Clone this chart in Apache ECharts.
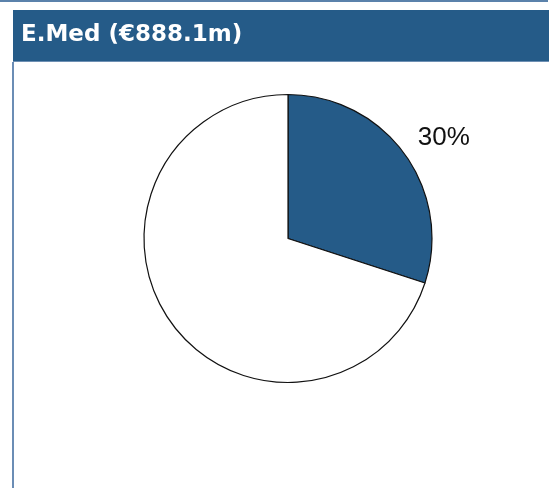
<!DOCTYPE html>
<html>
<head>
<meta charset="utf-8">
<script src="https://cdn.jsdelivr.net/npm/echarts@6/dist/echarts.min.js"></script>
<style>
  html, body { margin: 0; padding: 0; background: #fff; }
  #content { width: 549px; height: 488px; }
</style>
</head>
<body>
<div id="content"></div>
<script>
  // chart data
  let titleText = 'E.Med (€888.1m)';
  let categories = ['E.Med', 'Other'];
  let values = [30, 70];
  let sliceColors = ['#255b88', '#ffffff'];

  let chart = echarts.init(document.getElementById('content'));

  let pieData = categories.map(function (name, i) {
    return { name: name, value: values[i], itemStyle: { color: sliceColors[i] } };
  });
  let labelData = categories.map(function (name, i) {
    return { name: name, value: values[i] };
  });

  chart.setOption({
    animation: false,
    title: {
      text: titleText,
      left: 21,
      top: 24,
      padding: 0,
      textStyle: {
        color: '#ffffff',
        fontFamily: 'DejaVu Sans, sans-serif',
        fontWeight: 'bold',
        fontSize: 23,
        lineHeight: 23
      }
    },
    graphic: [
      // top rule
      { type: 'rect', shape: { x: 0, y: 0, width: 548, height: 2 }, style: { fill: '#5b82ab' }, z: -10 },
      // header band
      { type: 'rect', shape: { x: 13, y: 10, width: 536, height: 52 }, style: { fill: '#255b88' }, z: -10 },
      { type: 'rect', shape: { x: 13, y: 61, width: 536, height: 1 }, style: { fill: '#6d8fb3' }, z: -10 },
      // left border
      { type: 'rect', shape: { x: 12, y: 62, width: 2, height: 426 }, style: { fill: '#6b8db5' }, z: -10 }
    ],
    series: [{
      name: 'share',
      type: 'pie',
      center: [288, 238.5],
      radius: 144,
      startAngle: 90,
      clockwise: true,
      silent: true,
      label: { show: false },
      labelLine: { show: false },
      itemStyle: { borderColor: '#111111', borderWidth: 1.2 },
      data: pieData
    }, {
      // invisible ring carrying the percentage label
      name: 'label',
      type: 'pie',
      center: [288, 238.5],
      radius: [176, 189.4],
      startAngle: 87,
      clockwise: true,
      silent: true,
      itemStyle: { color: 'rgba(0,0,0,0)', borderWidth: 0 },
      labelLine: { show: false },
      label: {
        show: true,
        position: 'inside',
        formatter: function (p) { return p.dataIndex === 0 ? p.percent.toFixed(0) + '%' : ''; },
        color: '#111111',
        fontFamily: 'Liberation Sans, Arial, sans-serif',
        fontSize: 26
      },
      data: labelData
    }]
  });
</script>
</body>
</html>
